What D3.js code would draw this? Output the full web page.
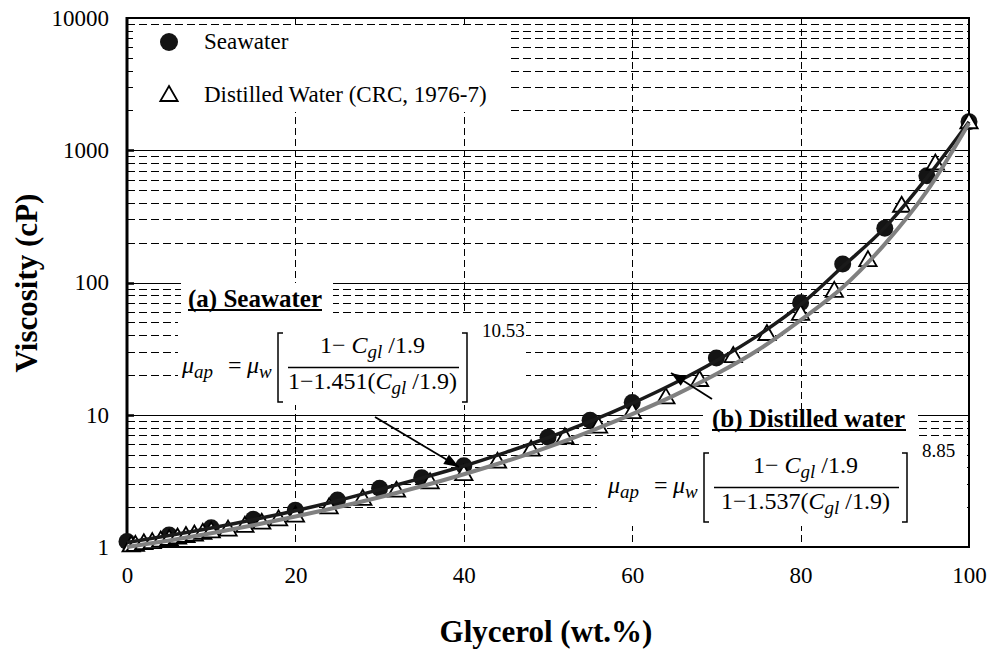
<!DOCTYPE html>
<html>
<head>
<meta charset="utf-8">
<script src="https://cdn.jsdelivr.net/npm/d3@7"></script>
</head>
<body style="margin:0">
<svg id="chart" width="992" height="649"></svg>
<script>
// Glycerol content (wt.%) and measured viscosity (cP)
const seawaterX = [0, 5, 10, 15, 20, 25, 30, 35, 40, 50, 55, 60, 70, 80, 85, 90, 95, 100];
const seawaterY = [1.10, 1.23, 1.40, 1.62, 1.90, 2.27, 2.78, 3.34, 4.12, 6.75, 9.1, 12.4, 26.9, 70.3, 138, 257, 642, 1644];

const distilledX = [0.5, 1, 2, 3, 4, 5, 6, 7, 8, 9, 10, 12, 14, 16, 18, 20, 24, 28, 32, 36, 40, 44, 48, 52, 56, 60, 64, 68, 72, 76, 80, 84, 88, 92, 96, 100];
const distilledY = [1.01, 1.02, 1.05, 1.07, 1.10, 1.13, 1.16, 1.19, 1.22, 1.26, 1.29, 1.33, 1.42, 1.50, 1.59, 1.70, 1.96, 2.27, 2.62, 3.03, 3.50, 4.34, 5.35, 6.64, 8.0, 10.3, 13.3, 18.0, 27.3, 40.1, 57, 85, 145, 374, 780, 1600];

// Fitted model curves
const fitX = [0, 5, 10, 15, 20, 25, 30, 35, 40, 45, 50, 55, 60, 65, 70, 75, 80, 85, 90, 95, 100];
const seawaterFit = [1.08, 1.22, 1.39, 1.61, 1.88, 2.24, 2.72, 3.32, 4.1, 5.2, 6.7, 8.9, 12.2, 17.3, 25.6, 40, 68, 132, 260, 620, 1640];
const distilledFit = [1.0, 1.12, 1.27, 1.46, 1.7, 2.0, 2.38, 2.88, 3.55, 4.45, 5.7, 7.5, 10.1, 14.0, 20.3, 31, 52, 92, 195, 490, 1600];

const xTicks = [0, 20, 40, 60, 80, 100];
const yTicks = [1, 10, 100, 1000, 10000];

const legendLabels = ["Seawater", "Distilled Water (CRC, 1976-7)"];

const FONT = "Liberation Serif";

const svg = d3.select("#chart");
const x = d3.scaleLinear().domain([0, 100]).range([127, 969]);
const y = d3.scaleLog().domain([1, 10000]).range([547, 18]);
const [L, R] = x.range();
const [B, T] = y.range();

function txt(sel, size) {
  return sel.append("text").attr("font-family", FONT).attr("font-size", size).attr("fill", "#000");
}
function ital(t, s, size) {
  return t.append("tspan").attr("font-style", "italic").attr("font-size", size).text(s);
}

// ---- grid ----
const grid = svg.append("g");
const minorVals = [];
[1, 10, 100, 1000].forEach(d => { for (let k = 2; k <= 9; k++) minorVals.push(d * k); });
grid.selectAll("line.minor").data(minorVals).join("line")
  .attr("x1", L).attr("x2", R)
  .attr("y1", d => Math.round(y(d)) + 0.5).attr("y2", d => Math.round(y(d)) + 0.5)
  .attr("stroke", "#000").attr("stroke-width", 1).attr("stroke-dasharray", "8,4");
grid.selectAll("line.major").data([10, 100, 1000]).join("line")
  .attr("x1", L).attr("x2", R)
  .attr("y1", d => Math.round(y(d)) + 0.5).attr("y2", d => Math.round(y(d)) + 0.5)
  .attr("stroke", "#000").attr("stroke-width", 1);
grid.selectAll("line.vx").data([20, 40, 60, 80]).join("line")
  .attr("x1", d => Math.round(x(d)) + 0.5).attr("x2", d => Math.round(x(d)) + 0.5)
  .attr("y1", T).attr("y2", B)
  .attr("stroke", "#000").attr("stroke-width", 1).attr("stroke-dasharray", "7,4");

// ---- white panels behind legend and annotations ----
const panels = [
  [128, 26, 381, 86],    // legend
  [181, 283, 152, 32],   // (a) title
  [178, 315, 348, 90],   // (a) equation
  [703, 412, 215, 26],   // (b) title
  [597, 438, 370, 88]    // (b) equation
];
svg.append("g").selectAll("rect").data(panels).join("rect")
  .attr("x", d => d[0]).attr("y", d => d[1]).attr("width", d => d[2]).attr("height", d => d[3])
  .attr("fill", "#fff");

// ---- axes ----
const yAxis = d3.axisLeft(y).tickValues(yTicks).tickFormat(d3.format("d")).tickSize(0).tickPadding(18);
const gy = svg.append("g").attr("transform", `translate(${L},0)`).call(yAxis)
  .attr("font-family", FONT).attr("font-size", 23);
gy.select(".domain").remove();
gy.selectAll("text").attr("fill", "#000");

const xAxis = d3.axisBottom(x).tickValues(xTicks).tickFormat(d3.format("d")).tickSize(0).tickPadding(20);
const gx = svg.append("g").attr("transform", `translate(0,${B})`).call(xAxis)
  .attr("font-family", FONT).attr("font-size", 23);
gx.select(".domain").remove();
gx.selectAll("text").attr("fill", "#000");

// inward ticks on the left axis
const tickG = svg.append("g").attr("stroke", "#000");
tickG.selectAll("line.mt").data(minorVals).join("line")
  .attr("x1", L).attr("x2", L + 6)
  .attr("y1", d => Math.round(y(d)) + 0.5).attr("y2", d => Math.round(y(d)) + 0.5)
  .attr("stroke-width", 1);
tickG.selectAll("line.Mt").data([10, 100, 1000]).join("line")
  .attr("x1", L).attr("x2", L + 7)
  .attr("y1", d => Math.round(y(d)) + 0.5).attr("y2", d => Math.round(y(d)) + 0.5)
  .attr("stroke-width", 2.5);
// inward ticks along the top edge
tickG.selectAll("line.tt").data([20, 40, 60, 80]).join("line")
  .attr("x1", d => Math.round(x(d)) + 0.5).attr("x2", d => Math.round(x(d)) + 0.5)
  .attr("y1", T).attr("y2", T + 5).attr("stroke-width", 1);

// frame
svg.append("rect").attr("x", L).attr("y", T).attr("width", R - L).attr("height", B - T)
  .attr("fill", "none").attr("stroke", "#000").attr("stroke-width", 2);
svg.append("line").attr("x1", L).attr("x2", L).attr("y1", T - 1).attr("y2", B + 1)
  .attr("stroke", "#000").attr("stroke-width", 3);

// axis titles
txt(svg, 31).attr("x", 546).attr("y", 642).attr("text-anchor", "middle")
  .attr("font-weight", "bold").text("Glycerol (wt.%)");
txt(svg, 31).attr("transform", "translate(37,283) rotate(-90)").attr("text-anchor", "middle")
  .attr("font-weight", "bold").text("Viscosity (cP)");

// ---- data ----
const sw = seawaterX.map((d, i) => [d, seawaterY[i]]);
const dw = distilledX.map((d, i) => [d, distilledY[i]]);
const swFit = fitX.map((d, i) => [d, seawaterFit[i]]);
const dwFit = fitX.map((d, i) => [d, distilledFit[i]]);

const plot = svg.append("g");
plot.selectAll("circle").data(sw).join("circle")
  .attr("cx", d => x(d[0])).attr("cy", d => y(d[1])).attr("r", 8.5)
  .attr("fill", "#141414");

const tri = d3.symbol().type(d3.symbolTriangle).size(130);
plot.selectAll("path.tri").data(dw).join("path")
  .attr("class", "tri")
  .attr("transform", d => `translate(${x(d[0])},${y(d[1])})`)
  .attr("d", tri).attr("fill", "#fff").attr("stroke", "#000").attr("stroke-width", 1.8);

const line = d3.line().x(d => x(d[0])).y(d => y(d[1])).curve(d3.curveMonotoneX);
plot.append("path").datum(swFit).attr("d", line)
  .attr("fill", "none").attr("stroke", "#1a1a1a").attr("stroke-width", 3.5);
plot.append("path").datum(dwFit).attr("d", line)
  .attr("fill", "none").attr("stroke", "#808080").attr("stroke-width", 4);

// ---- legend ----
const lg = svg.append("g");
lg.append("circle").attr("cx", 169).attr("cy", 42).attr("r", 9).attr("fill", "#141414");
lg.append("path").attr("transform", "translate(169,96)").attr("d", tri)
  .attr("fill", "#fff").attr("stroke", "#000").attr("stroke-width", 1.8);
txt(lg, 23).attr("x", 204).attr("y", 49).text(legendLabels[0]);
txt(lg, 23).attr("x", 204).attr("y", 102).text(legendLabels[1]);

// ---- annotations ----
function underlinedTitle(tx, ty, len, label) {
  txt(svg, 25).attr("x", tx).attr("y", ty).attr("font-weight", "bold").text(label);
  svg.append("line").attr("x1", tx).attr("x2", tx + len).attr("y1", ty + 3).attr("y2", ty + 3)
    .attr("stroke", "#000").attr("stroke-width", 2);
}
underlinedTitle(188, 307, 134, "(a) Seawater");
underlinedTitle(712, 427, 194, "(b) Distilled water");

function equation(bx, fy, coef, expo, w) {
  const g = svg.append("g").attr("transform", `translate(${bx},${fy})`);
  const fs = 24, ss = 19;
  // left-hand side
  const lhs = txt(g, fs).attr("x", -96).attr("y", 6);
  ital(lhs, "μ", fs);
  ital(lhs, "ap", ss).attr("dy", 5);
  txt(g, fs).attr("x", -50).attr("y", 6).text("=");
  const mw = txt(g, fs).attr("x", -31).attr("y", 6);
  ital(mw, "μ", fs);
  ital(mw, "w", ss).attr("dy", 5);
  // brackets
  g.append("path").attr("d", "M5,-34 H0 V35 H5").attr("fill", "none").attr("stroke", "#000").attr("stroke-width", 1.5);
  g.append("path").attr("d", `M${w - 5},-34 H${w} V35 H${w - 5}`).attr("fill", "none").attr("stroke", "#000").attr("stroke-width", 1.5);
  // fraction
  const cx = w / 2;
  g.append("line").attr("x1", 10).attr("x2", w - 8).attr("y1", 0.5).attr("y2", 0.5).attr("stroke", "#000").attr("stroke-width", 1.3);
  const num = txt(g, fs).attr("x", cx).attr("y", -14).attr("text-anchor", "middle");
  num.append("tspan").text("1− ");
  ital(num, "C", fs);
  ital(num, "gl", ss).attr("dy", 5);
  num.append("tspan").attr("dy", -5).text(" /1.9");
  const den = txt(g, fs).attr("x", cx).attr("y", 22).attr("text-anchor", "middle");
  den.append("tspan").text("1−" + coef + "(");
  ital(den, "C", fs);
  ital(den, "gl", ss).attr("dy", 5);
  den.append("tspan").attr("dy", -5).text(" /1.9)");
  // exponent
  txt(g, 19).attr("x", w + 15).attr("y", -30).text(expo);
}
equation(278, 367, "1.451", "10.53", 189);
equation(704, 487, "1.537", "8.85", 203);

// arrows
function arrow(x1, y1, x2, y2) {
  svg.append("line").attr("x1", x1).attr("y1", y1).attr("x2", x2).attr("y2", y2)
    .attr("stroke", "#000").attr("stroke-width", 1.8);
  const a = Math.atan2(y2 - y1, x2 - x1), len = 15, hw = 5.5;
  const bx = x2 - len * Math.cos(a), by = y2 - len * Math.sin(a);
  const px = -Math.sin(a) * hw, py = Math.cos(a) * hw;
  svg.append("path").attr("d", `M${x2},${y2} L${bx + px},${by + py} L${bx - px},${by - py} Z`).attr("fill", "#000");
}
arrow(375, 417, 459, 467);
arrow(712, 399, 671, 373);
</script>
</body>
</html>
